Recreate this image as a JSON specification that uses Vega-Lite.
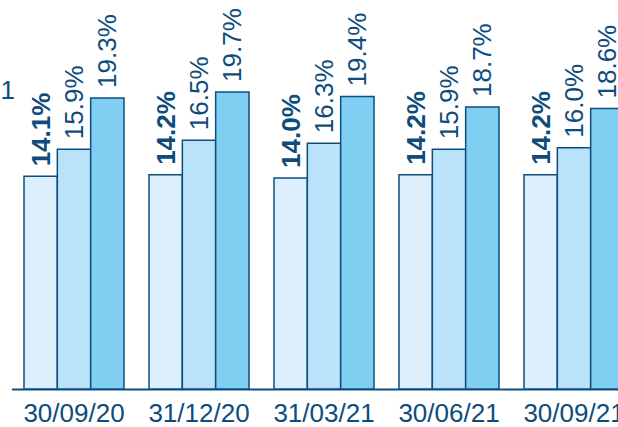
{
  "$schema": "https://vega.github.io/schema/vega-lite/v6.json",
  "width": 625,
  "height": 377,
  "autosize": "none",
  "padding": {"left": 11.5, "top": 12, "right": 0, "bottom": 38},
  "background": "white",
  "config": {"view": {"stroke": null}, "font": "Liberation Sans"},
  "data": {"values": [
    {"date": "30/09/20", "series": "CET1", "value": 0.141},
    {"date": "30/09/20", "series": "Tier 1", "value": 0.159},
    {"date": "30/09/20", "series": "Total", "value": 0.193},
    {"date": "31/12/20", "series": "CET1", "value": 0.142},
    {"date": "31/12/20", "series": "Tier 1", "value": 0.165},
    {"date": "31/12/20", "series": "Total", "value": 0.197},
    {"date": "31/03/21", "series": "CET1", "value": 0.140},
    {"date": "31/03/21", "series": "Tier 1", "value": 0.163},
    {"date": "31/03/21", "series": "Total", "value": 0.194},
    {"date": "30/06/21", "series": "CET1", "value": 0.142},
    {"date": "30/06/21", "series": "Tier 1", "value": 0.159},
    {"date": "30/06/21", "series": "Total", "value": 0.187},
    {"date": "30/09/21", "series": "CET1", "value": 0.142},
    {"date": "30/09/21", "series": "Tier 1", "value": 0.160},
    {"date": "30/09/21", "series": "Total", "value": 0.186}
  ]},
  "encoding": {
    "x": {
      "field": "date", "type": "nominal", "sort": null,
      "scale": {"paddingInner": 0.2, "paddingOuter": 0.1},
      "axis": {
        "title": null, "labelAngle": 0, "ticks": false, "labelFontSize": 26,
        "labelColor": "#0E4C7C", "labelPadding": 11, "domainColor": "#0D4E80",
        "domainWidth": 2, "grid": false, "labelOverlap": false
      }
    },
    "xOffset": {"field": "series", "type": "nominal", "sort": ["CET1", "Tier 1", "Total"]},
    "y": {
      "field": "value", "type": "quantitative", "scale": {"domain": [0, 0.25]},
      "axis": {
        "title": "1", "labels": false, "ticks": false, "domain": false, "grid": false,
        "titleAngle": 0, "titleFontSize": 26, "titleFontWeight": "normal",
        "titleColor": "#0E4C7C", "titleX": -11.5, "titleY": 86,
        "titleAlign": "left", "titleBaseline": "alphabetic"
      }
    }
  },
  "layer": [
    {
      "mark": {"type": "bar", "stroke": "#0D4E80", "strokeWidth": 1.5},
      "encoding": {
        "fill": {
          "field": "series", "type": "nominal",
          "scale": {"domain": ["CET1", "Tier 1", "Total"], "range": ["#DDEFFC", "#BAE2F8", "#80CFF3"]},
          "legend": null
        }
      }
    },
    {
      "transform": [{"filter": "datum.series === 'CET1'"}],
      "mark": {"type": "text", "angle": 270, "align": "left", "baseline": "middle", "dx": 10, "dy": 1, "fontSize": 26, "fontWeight": "bold", "color": "#0E4C7C"},
      "encoding": {"text": {"field": "value", "type": "quantitative", "format": ".1%"}}
    },
    {
      "transform": [{"filter": "datum.series !== 'CET1'"}],
      "mark": {"type": "text", "angle": 270, "align": "left", "baseline": "middle", "dx": 10, "dy": 1, "fontSize": 26, "color": "#0E4C7C"},
      "encoding": {"text": {"field": "value", "type": "quantitative", "format": ".1%"}}
    }
  ]
}
